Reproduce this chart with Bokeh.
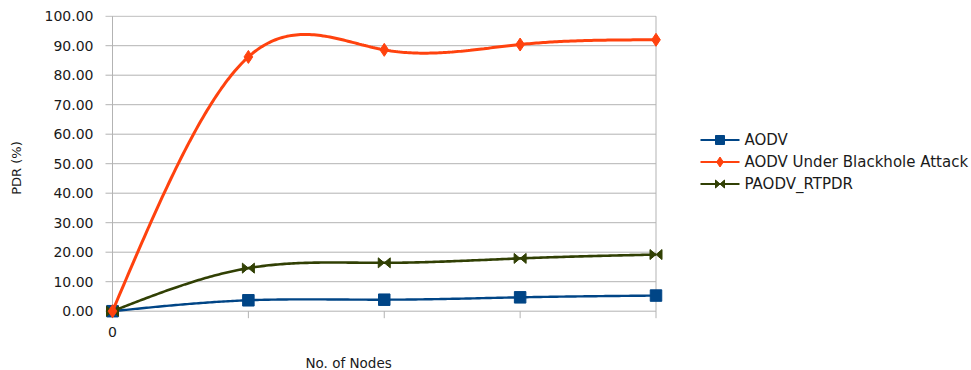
import numpy as np
from bokeh.plotting import figure
from bokeh.layouts import row, column
from bokeh.models import Range1d, FixedTicker, PrintfTickFormatter, Label
from bokeh.embed import file_html
from bokeh.resources import INLINE

# ---- data -------------------------------------------------------------
node_ticks = [0, 1, 2, 3, 4]
node_labels = ["0", "", "", "", ""]
pdr_ticks = [0, 10, 20, 30, 40, 50, 60, 70, 80, 90, 100]

aodv = [0.0, 3.7, 3.9, 4.7, 5.3]
aodv_blackhole = [0.0, 86.2, 88.6, 90.4, 92.0]
paodv_rtpdr = [0.0, 14.6, 16.4, 17.9, 19.2]

series_names = ["AODV", "AODV Under Blackhole Attack", "PAODV_RTPDR"]
series_colors = ["#004586", "#ff420e", "#314004"]
x_title = "No. of Nodes"
y_title = "PDR (%)"

FONT = "DejaVu Sans"
GRID = "#b3b3b3"
TEXT = "#1a1a1a"

# ---- page geometry (pixels) --------------------------------------------
PAGE_W, PAGE_H = 971, 370
FIG_W = 690                     # chart column; legend panel to its right
TITLE_H = 25                    # strip under the chart for the x title
FIG_H = PAGE_H - TITLE_H
LEG_W = PAGE_W - FIG_W
FRAME_L, FRAME_R, FRAME_T, FRAME_B = 102, 664, 15, 320
X0_PX, X4_PX = 112.0, 655.5      # first / last category
Y0_PX, Y100_PX = 310.7, 15.7     # 0 % / 100 %

ux = (X4_PX - X0_PX) / (node_ticks[-1] - node_ticks[0])   # px per category
uy = (Y0_PX - Y100_PX) / 100.0                             # px per percent
x_range = Range1d(node_ticks[0] - (X0_PX - FRAME_L) / ux,
                  node_ticks[-1] + (FRAME_R - X4_PX) / ux)
y_range = Range1d(-(FRAME_B - Y0_PX) / uy, 100 + (Y100_PX - FRAME_T) / uy)
px_x, px_y = 1.0 / ux, 1.0 / uy
TICK = 7


def natural_spline(xs, ys, n=60):
    """Smooth curve through the points (natural cubic spline)."""
    xs = np.asarray(xs, float)
    ys = np.asarray(ys, float)
    k = len(xs)
    h = np.diff(xs)
    A = np.zeros((k, k))
    rhs = np.zeros(k)
    A[0, 0] = A[-1, -1] = 1.0
    for i in range(1, k - 1):
        A[i, i - 1] = h[i - 1]
        A[i, i] = 2 * (h[i - 1] + h[i])
        A[i, i + 1] = h[i]
        rhs[i] = 6 * ((ys[i + 1] - ys[i]) / h[i] - (ys[i] - ys[i - 1]) / h[i - 1])
    M = np.linalg.solve(A, rhs)
    out_x, out_y = [], []
    for i in range(k - 1):
        t = np.linspace(0, 1, n, endpoint=(i == k - 2))
        a = 1 - t
        out_x.append(xs[i] + t * h[i])
        out_y.append(a * ys[i] + t * ys[i + 1]
                     + ((a ** 3 - a) * M[i] + (t ** 3 - t) * M[i + 1]) * h[i] ** 2 / 6)
    return np.concatenate(out_x), np.concatenate(out_y)


def bowtie(xs, ys, hw, hh, sx, sy):
    """Two opposing triangles meeting at each point."""
    pxs, pys = [], []
    for x, y in zip(xs, ys):
        pxs.append([x - hw * sx, x - hw * sx, x])
        pys.append([y + hh * sy, y - hh * sy, y])
        pxs.append([x + hw * sx, x + hw * sx, x])
        pys.append([y + hh * sy, y - hh * sy, y])
    return pxs, pys


def blank_panel(width, height, xr, yr):
    f = figure(width=width, height=height, x_range=xr, y_range=yr,
               output_backend="svg", toolbar_location=None,
               x_axis_location=None, y_axis_location=None,
               min_border=0, min_border_left=0, min_border_right=0,
               min_border_top=0, min_border_bottom=0)
    f.outline_line_color = None
    f.grid.visible = False
    return f


# ---- main chart -------------------------------------------------------
p = figure(width=FIG_W, height=FIG_H, x_range=x_range, y_range=y_range,
           output_backend="svg", toolbar_location=None,
           min_border_left=FRAME_L, min_border_right=FIG_W - FRAME_R,
           min_border_top=FRAME_T, min_border_bottom=FIG_H - FRAME_B)
p.outline_line_color = None
p.grid.visible = False

# y axis: labels only, lines drawn below
p.yaxis.ticker = FixedTicker(ticks=pdr_ticks)
p.yaxis.formatter = PrintfTickFormatter(format="%.2f")
p.yaxis.axis_line_color = None
p.yaxis.major_tick_line_color = None
p.yaxis.minor_tick_line_color = None
p.yaxis.major_label_standoff = 3
p.yaxis.major_label_text_font = FONT
p.yaxis.major_label_text_font_size = "14px"
p.yaxis.major_label_text_color = TEXT
p.yaxis.axis_label = y_title
p.yaxis.axis_label_text_font = FONT
p.yaxis.axis_label_text_font_size = "13px"
p.yaxis.axis_label_text_font_style = "normal"
p.yaxis.axis_label_text_color = TEXT
p.yaxis.axis_label_standoff = 18

# x axis: category labels only
p.xaxis.ticker = FixedTicker(ticks=node_ticks)
p.xaxis.major_label_overrides = {t: lab for t, lab in zip(node_ticks, node_labels)}
p.xaxis.axis_line_color = None
p.xaxis.major_tick_line_color = None
p.xaxis.minor_tick_line_color = None
p.xaxis.major_label_standoff = 0
p.xaxis.major_label_text_font = FONT
p.xaxis.major_label_text_font_size = "14px"
p.xaxis.major_label_text_color = TEXT

# horizontal grid lines (with outer tick stubs on the left)
p.segment(x0=[node_ticks[0] - TICK * px_x] * len(pdr_ticks), y0=pdr_ticks,
          x1=[node_ticks[-1]] * len(pdr_ticks), y1=pdr_ticks,
          line_color=GRID, line_width=1)
# vertical axis, right border and category ticks
v_top = [pdr_ticks[-1] if t in (node_ticks[0], node_ticks[-1]) else 0 for t in node_ticks]
p.segment(x0=node_ticks, y0=[-TICK * px_y] * len(node_ticks),
          x1=node_ticks, y1=v_top, line_color=GRID, line_width=1)

# AODV
sx, sy = natural_spline(node_ticks, aodv)
p.line(sx, sy, line_color=series_colors[0], line_width=2.4)
p.scatter(node_ticks, aodv, marker="square", size=11.5,
          fill_color=series_colors[0], line_color=series_colors[0])

# PAODV_RTPDR
sx, sy = natural_spline(node_ticks, paodv_rtpdr)
p.line(sx, sy, line_color=series_colors[2], line_width=2.6)
bx, by = bowtie(node_ticks, paodv_rtpdr, 6, 5, px_x, px_y)
p.patches(bx, by, fill_color=series_colors[2], line_color=series_colors[2], line_width=1)

# AODV under blackhole attack
sx, sy = natural_spline(node_ticks, aodv_blackhole)
p.line(sx, sy, line_color=series_colors[1], line_width=3)
p.scatter(node_ticks, aodv_blackhole, marker="diamond", size=13,
          fill_color=series_colors[1], line_color=series_colors[1])

# ---- x-axis title strip (frame aligned with the chart above) -----------
xt = blank_panel(FIG_W, TITLE_H, Range1d(FRAME_L, FRAME_R), Range1d(PAGE_H, FIG_H))
xt.add_layout(Label(x=305, y=362, text=x_title, text_font=FONT,
                    text_font_size="13.5px", text_color=TEXT,
                    text_align="left", text_baseline="middle"))

# ---- legend panel (pixel coordinates) -----------------------------------
leg = blank_panel(LEG_W, PAGE_H, Range1d(FIG_W, PAGE_W), Range1d(PAGE_H, 0))

rows_y = [139.5, 161.5, 183.5]
line_x0, line_x1, text_x = 700, 739, 744
mid_x = (line_x0 + line_x1) / 2
for name, color, ry in zip(series_names, series_colors, rows_y):
    leg.segment(x0=[line_x0], y0=[ry], x1=[line_x1], y1=[ry],
                line_color=color, line_width=2.2)
    leg.add_layout(Label(x=text_x, y=ry, text=name, text_font=FONT,
                         text_font_size="15px", text_color=TEXT,
                         text_align="left", text_baseline="middle"))

leg.scatter([mid_x], [rows_y[0]], marker="square", size=9,
            fill_color=series_colors[0], line_color=series_colors[0])
leg.scatter([mid_x], [rows_y[1]], marker="diamond", size=10,
            fill_color=series_colors[1], line_color=series_colors[1])
lbx, lby = bowtie([mid_x], [rows_y[2]], 4.5, 4, 1, 1)
leg.patches(lbx, lby, fill_color=series_colors[2], line_color=series_colors[2], line_width=1)

layout = row(column(p, xt, spacing=0), leg, spacing=0)
open("out.html", "w").write(file_html(layout, INLINE))
